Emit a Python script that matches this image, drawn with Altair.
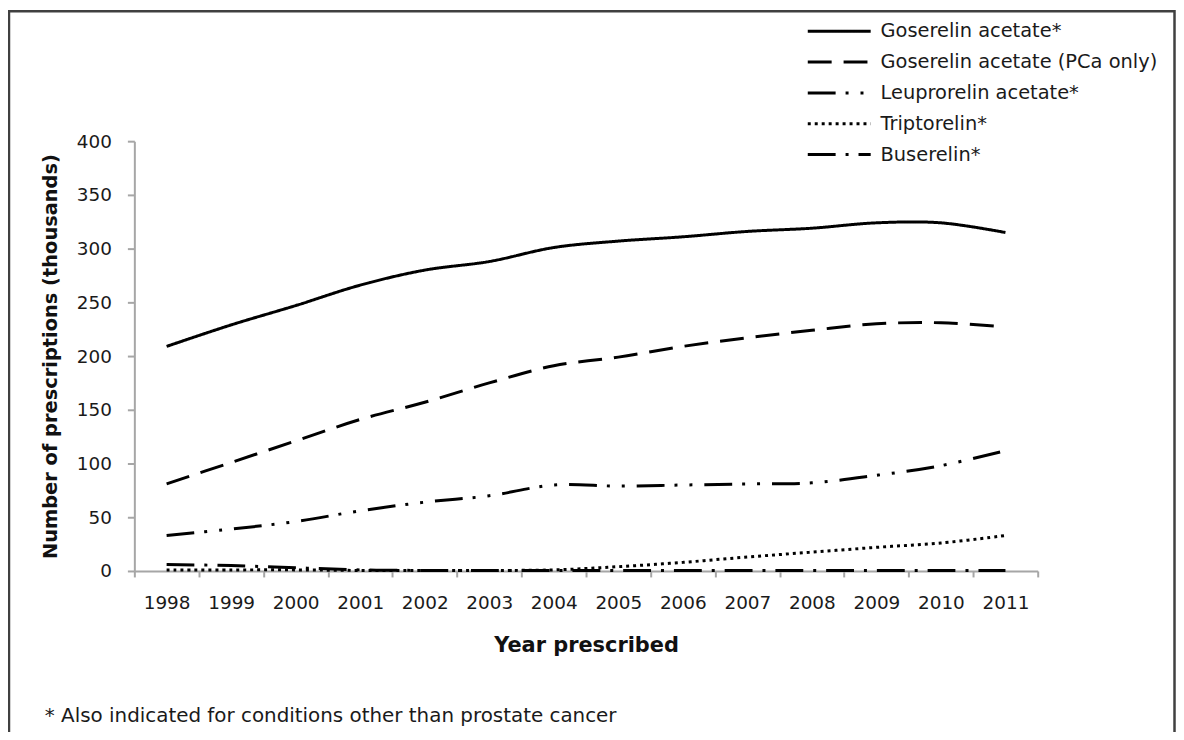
import altair as alt
import pandas as pd

years = list(range(1998, 2012))
series_names = [
    "Goserelin acetate*",
    "Goserelin acetate (PCa only)",
    "Leuprorelin acetate*",
    "Triptorelin*",
    "Buserelin*",
]
goserelin = [209, 229, 247, 266, 280, 288, 301, 307, 311, 316, 319, 324, 324, 315]
goserelin_pca = [81, 101, 121, 141, 157, 175, 191, 199, 209, 217, 224, 230, 231, 227]
leuprorelin = [33, 39, 46, 56, 64, 70, 80, 79, 80, 81, 82, 89, 98, 112]
triptorelin = [1, 1, 1, 0.5, 0.5, 0.5, 1, 4, 8, 13, 17.5, 22, 26, 33]
buserelin = [6, 5, 3, 1, 0.5, 0.5, 0.5, 0.5, 0.5, 0.5, 0.5, 0.5, 0.5, 0.5]
dash_patterns = [[1, 0], [24, 12], [28, 10, 3, 12, 3, 12], [3, 4], [28, 10, 3, 10]]
footnote = "* Also indicated for conditions other than prostate cancer"

all_series = [goserelin, goserelin_pca, leuprorelin, triptorelin, buserelin]
rows = []
for name, vals in zip(series_names, all_series):
    for y, v in zip(years, vals):
        rows.append({"Year": y, "Series": name, "Value": v})
df = pd.DataFrame(rows)

FONT = "DejaVu Sans"

lines = alt.Chart(df).mark_line(
    color="black", strokeWidth=3, interpolate="catmull-rom"
).encode(
    x=alt.X(
        "Year:O",
        bandPosition=0.5,
        scale=alt.Scale(type="band", paddingInner=0, paddingOuter=0),
        axis=alt.Axis(
            title="Year prescribed",
            labelAngle=0,
            tickBand="extent",
            tickSize=6,
            labelPadding=17,
            titlePadding=22,
            titleFontSize=21,
        ),
    ),
    y=alt.Y(
        "Value:Q",
        scale=alt.Scale(domain=[0, 400], nice=False),
        axis=alt.Axis(
            title="Number of prescriptions (thousands)",
            values=list(range(0, 401, 50)),
            tickSize=7,
            labelPadding=16,
            titlePadding=16,
            titleFontSize=19.5,
            grid=False,
        ),
    ),
    strokeDash=alt.StrokeDash(
        "Series:N",
        scale=alt.Scale(domain=series_names, range=dash_patterns),
        sort=series_names,
        legend=alt.Legend(
            title=None,
            orient="none",
            legendX=675,
            legendY=-126,
            symbolType="stroke",
            symbolSize=4000,
            symbolStrokeWidth=3,
            symbolStrokeColor="black",
            clipHeight=31,
            rowPadding=0,
            padding=0,
            labelOffset=8,
            labelFont=FONT,
            labelFontSize=19.5,
            labelColor="#1a1a1a",
            labelLimit=400,
        ),
    ),
    detail="Series:N",
)

frame = alt.Chart(pd.DataFrame({"a": [0]})).mark_rect(
    fill="transparent", stroke="#404040", strokeWidth=2.5
).encode(
    x=alt.value(-126), x2=alt.value(1045.5), y=alt.value(-130.5), y2=alt.value(700)
)

note = alt.Chart(pd.DataFrame({"t": [footnote]})).mark_text(
    align="left", baseline="middle", font=FONT, fontSize=20, color="#1a1a1a"
).encode(text="t:N", x=alt.value(-90), y=alt.value(578))

chart = alt.layer(frame, lines, note).properties(
    width=908,
    height=432,
    autosize=alt.AutoSizeParams(type="none"),
    padding={"left": 127, "top": 132, "right": 139, "bottom": 160},
    background="white",
).configure_view(strokeWidth=0).configure_axis(
    domainColor="#A6A6A6",
    domainWidth=2,
    tickColor="#A6A6A6",
    tickWidth=2,
    labelFont=FONT,
    labelFontSize=18.5,
    labelColor="#1a1a1a",
    titleFont=FONT,
    titleFontWeight="bold",
    titleColor="#111111",
    grid=False,
)

chart.save("out.html", embed_options={"renderer": "svg", "actions": False})
